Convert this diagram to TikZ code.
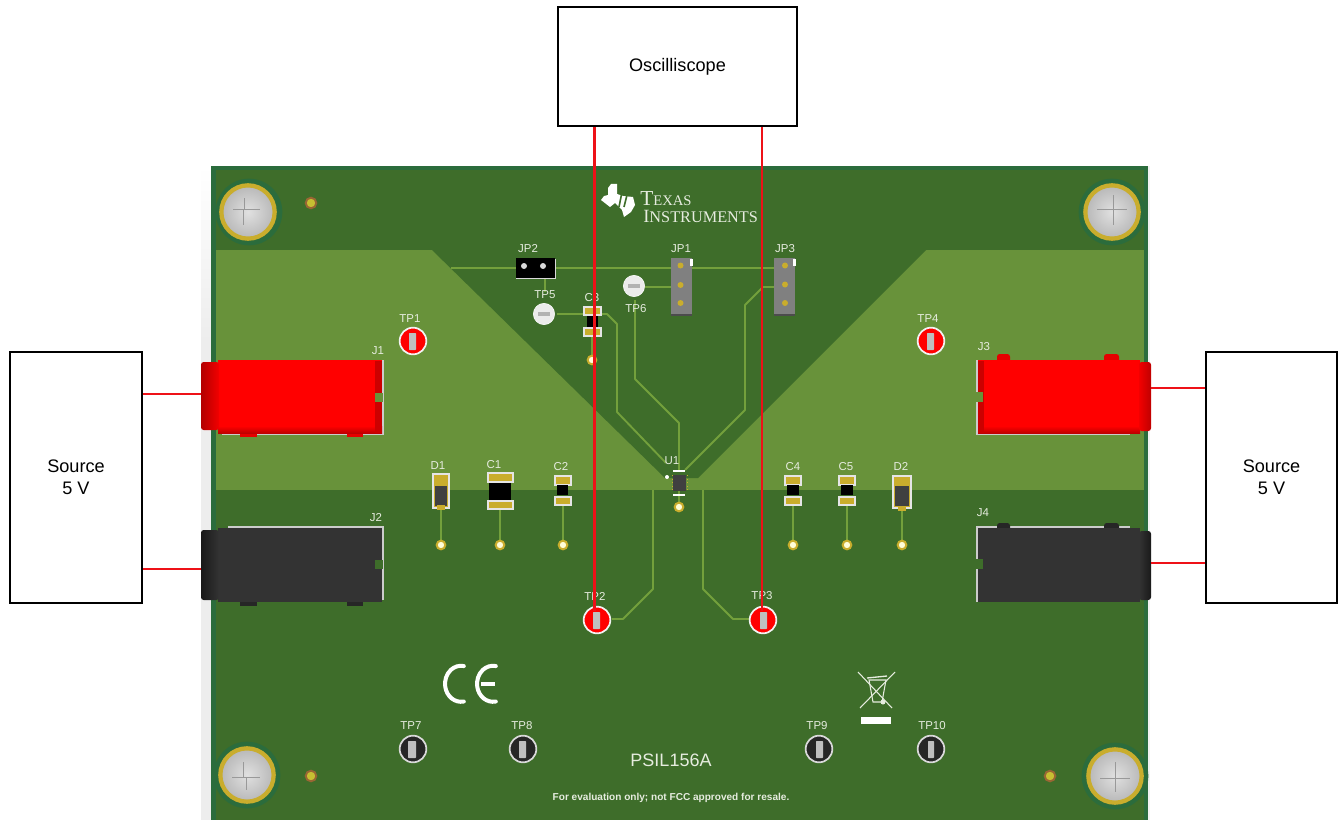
\documentclass[tikz,border=0pt]{standalone}
\usepackage{fontspec}
\setmainfont{Liberation Sans}
\newfontfamily\logofont{Liberation Serif}
\definecolor{boardgreen}{HTML}{3E6D2A}
\definecolor{edgeteal}{HTML}{2B6C3C}
\definecolor{pourgreen}{HTML}{68923A}
\definecolor{tracegreen}{HTML}{73A03C}
\definecolor{padgold}{HTML}{C9AD2D}
\definecolor{silk}{HTML}{E6ECDF}
\definecolor{probered}{HTML}{EE1118}
\tikzset{
  labelbox/.style={draw, line width=1.5pt, fill=white, inner sep=0pt, align=center, font=\fontsize{13.6}{16.5}\selectfont},
  wire/.style={draw=probered, line width=1.8pt},
  trace/.style={draw=tracegreen, line width=1.4pt, line join=round},
  silklabel/.style={text=silk, inner sep=0pt, font=\fontsize{8.6}{10}\selectfont},
  tpred/.style={draw=white!95!black, circle, line width=1.3pt, fill=red, minimum size=20pt, inner sep=0pt},
  tpblack/.style={draw=white!85!black, circle, line width=1.3pt, fill=black!85, minimum size=20pt, inner sep=0pt},
  tpwhite/.style={draw=white, circle, fill=white!92!black, minimum size=16pt, inner sep=0pt},
  pin/.style={fill=black!25, rounded corners=0.5pt},
  via/.style={circle, fill=white!85!yellow, draw=padgold, line width=1.5pt, minimum size=6.5pt, inner sep=0pt},
  hole/.style={circle, fill=yellow!75!black, draw=brown!80!black, line width=1.4pt, minimum size=8pt, inner sep=0pt},
  pad/.style={fill=padgold, draw=white!90!black, line width=0.8pt},
  screwring/.style={circle, draw=padgold, line width=3.2pt, inner color=black!12, outer color=black!28, minimum size=40pt, inner sep=0pt},
  screwhalo/.style={circle, fill=edgeteal, minimum size=50pt, inner sep=0pt},
  jackmark/.style={draw=white!80!black, line width=0.8pt},
  logomark/.style={draw=white, line width=3pt, line cap=round},
}
\begin{document}
\begin{tikzpicture}[x=0.75pt, y=-0.75pt]
\useasboundingbox (0,0) rectangle (1338,820);
\shade[top color=white, bottom color=black!7] (201,166) rectangle (211,340);
\fill[black!7] (201,340) rectangle (211,820);
\fill[black!5] (1148,166) rectangle (1150,820);
\fill[edgeteal] (211,166) rectangle (1148,820);
\fill[boardgreen] (216,170) rectangle (1144,820);
\fill[pourgreen] (216,250) rectangle (1144,490);
\fill[boardgreen] (432,250) -- (926,250) -- (698,478) -- (665,478) -- cycle;

\draw[trace] (451,268) -- (775,268);
\draw[trace] (775,268) -- (785,268);
\draw[trace] (545,278) -- (545,292);
\draw[trace] (557,314) -- (607,314) -- (617,324) -- (617,412) -- (666,463);
\draw[trace] (592,325) -- (592,360);
\draw[trace] (645,287) -- (672,287);
\draw[trace] (635,300) -- (635,379) -- (679,423) -- (679,470);
\draw[trace] (774,287) -- (763,287) -- (745,305) -- (745,410) -- (685,470);
\draw[trace] (653,490) -- (653,589) -- (623,619) -- (612,619);
\draw[trace] (703,490) -- (703,589) -- (733,619) -- (750,619);
\draw[trace] (441,505) -- (441,545);
\draw[trace] (500,505) -- (500,545);
\draw[trace] (563,505) -- (563,545);
\draw[trace] (793,505) -- (793,545);
\draw[trace] (847,505) -- (847,545);
\draw[trace] (902,505) -- (902,545);
\draw[trace] (679,490) -- (679,507);

\node[screwhalo] at (249,212) (screwa) {};
\node[screwhalo] at (1112,212) (screwb) {};
\node[screwhalo] at (247,775) (screwc) {};
\node[screwhalo] at (1115,776) (screwd) {};
\node[screwring] at (248,212) (screwe) {};
\node[screwring] at (1112,212) (screwf) {};
\node[screwring] at (247,775) (screwg) {};
\node[screwring] at (1115,776) (screwh) {};
\draw[black!40, line width=0.7pt] (233,209) -- (244,209) -- (244,198) (243,209) -- (260,209) (243,209) -- (243,225);
\draw[black!40, line width=0.7pt] (1097,209) -- (1127,209) (1113,195) -- (1113,225);
\draw[black!40, line width=0.7pt] (232,777) -- (260,777) (243,762) -- (243,777) (246,777) -- (246,790);
\draw[black!40, line width=0.7pt] (1100,778) -- (1130,778) (1115,762) -- (1115,792);
\node[hole] at (311,203) (holea) {};
\node[hole] at (311,776) (holeb) {};
\node[hole] at (1050,776) (holec) {};

\fill[white] (608,188) -- (611,184) -- (617,184) -- (617,194) -- (623,196) -- (633,197) -- (635,205) -- (631,212) -- (624,217) -- (622,210) -- (615,203) -- (610,207) -- (601,200) -- (604,196) -- (608,195) -- cycle;
\draw[boardgreen, line width=1.2pt] (622,192) -- (619,207) (627,195) -- (624,207);
\node[text=silk, inner sep=0pt, anchor=base west, font=\logofont] at (640,205) (texas) {{\fontsize{16}{17}\selectfont T}{\fontsize{11}{13}\selectfont EXAS}};
\node[text=silk, inner sep=0pt, anchor=base west, font=\logofont] at (643,222) (instr) {{\fontsize{14}{15}\selectfont I}{\fontsize{12.2}{13}\selectfont NSTRUMENTS}};

\fill[black] (516,258) rectangle (555,278);
\draw[white!85!black, line width=0.7pt] (555,259) -- (555,278) -- (516,278);
\fill[black!15] (524,266) circle[radius=3];
\fill[black!15] (543,266) circle[radius=3];
\fill[black!50] (671,258) rectangle (692,316);
\fill[black!70] (671,314) rectangle (692,316);
\fill[white] (690,259) rectangle (693,266);
\fill[padgold] (680.5,265.5) circle[radius=3];
\fill[padgold] (680.5,285) circle[radius=3];
\fill[padgold] (680.5,303) circle[radius=3];
\fill[black!50] (774,258) rectangle (795,316);
\fill[black!70] (774,314) rectangle (795,316);
\fill[white] (793,259) rectangle (796,266);
\fill[padgold] (785,265.5) circle[radius=3];
\fill[padgold] (785,284.5) circle[radius=3];
\fill[padgold] (785,303) circle[radius=3];

\node[tpwhite] at (544,314) (tp5) {};
\node[tpwhite] at (634,286) (tp6) {};
\fill[black!30] (538,312) rectangle (550,316);
\fill[black!30] (628,284) rectangle (640,288);

\fill[pad] (584,307) rectangle (601,315);
\fill[pad] (584,328) rectangle (601,336);
\fill[black] (587,316) rectangle (598,327);
\node[via] at (592,360) (viac3) {};

\fill[pad] (433,474) rectangle (449,508);
\fill[black!75] (435,486) rectangle (447,506);
\fill[padgold] (437,478) rectangle (445,484);
\fill[padgold] (437,505) rectangle (445,510);
\fill[pad] (488,473) rectangle (513,482);
\fill[pad] (488,501) rectangle (513,509);
\fill[black] (489,483) rectangle (511,500);
\fill[pad] (555,476) rectangle (571,485);
\fill[pad] (555,497) rectangle (571,505);
\fill[black] (557,485) rectangle (568,495);
\fill[pad] (785,476) rectangle (801,485);
\fill[pad] (785,497) rectangle (801,505);
\fill[black] (787,485) rectangle (799,495);
\fill[pad] (839,476) rectangle (855,485);
\fill[pad] (839,497) rectangle (855,505);
\fill[black] (841,485) rectangle (853,495);
\fill[pad] (893,476) rectangle (911,508);
\fill[black!75] (895,486) rectangle (909,506);
\fill[padgold] (898,480) rectangle (906,485);
\fill[padgold] (898,506) rectangle (906,511);

\fill[black!75] (673,475) rectangle (686,491);
\draw[padgold, line width=0.7pt, dotted] (672,475) -- (672,491) (687,475) -- (687,491);
\draw[white, line width=0.8pt] (673,471) -- (685,471) (673,495) -- (685,495);
\fill[white] (667,477) circle[radius=2];

\node[via] at (441,545) (viad1) {};
\node[via] at (500,545) (viac1) {};
\node[via] at (563,545) (viac2) {};
\node[via] at (793,545) (viac4) {};
\node[via] at (847,545) (viac5) {};
\node[via] at (902,545) (viad2) {};
\node[via] at (679,507) (viau1) {};

\draw[jackmark] (222,434) -- (383,434) -- (383,360);
\fill[red!90!black] (240,433) rectangle (257,437);
\fill[red!90!black] (347,433) rectangle (363,437);
\fill[red] (218,360) rectangle (382,433);
\shade[top color=red, bottom color=red!75!black] (218,426) rectangle (382,433);
\shade[left color=red!70!black, right color=red!95!black, rounded corners=2pt] (201,362) rectangle (219,430);
\fill[red!80!black] (375,361) rectangle (382,433);
\fill[pourgreen] (375,393) rectangle (383,402);

\draw[jackmark] (228,527) -- (383,527) -- (383,600);
\fill[black!85] (240,602) rectangle (257,606);
\fill[black!85] (347,602) rectangle (363,606);
\fill[black!80] (218,528) rectangle (382,602);
\shade[left color=black!90, right color=black!80, rounded corners=2pt] (201,530) rectangle (219,600);
\fill[boardgreen] (375,560) rectangle (383,569);

\draw[jackmark] (977,360) -- (977,434) -- (1130,434);
\fill[red!90!black, rounded corners=2pt] (997,354) rectangle (1010,364);
\fill[red!90!black, rounded corners=2pt] (1104,354) rectangle (1119,364);
\fill[red] (978,360) rectangle (1140,433);
\shade[top color=red, bottom color=red!75!black] (978,426) rectangle (1140,433);
\shade[left color=red!95!black, right color=red!75!black, rounded corners=2pt] (1139,362) rectangle (1151,431);
\fill[red!80!black] (978,361) rectangle (984,433);
\fill[pourgreen] (976,392) rectangle (983,402);

\draw[jackmark] (977,602) -- (977,527) -- (1130,527);
\fill[black!85, rounded corners=2pt] (997,523) rectangle (1010,532);
\fill[black!85, rounded corners=2pt] (1104,523) rectangle (1119,532);
\fill[black!80] (978,528) rectangle (1140,602);
\shade[left color=black!80, right color=black!90, rounded corners=2pt] (1139,531) rectangle (1151,600);
\fill[boardgreen] (976,559) rectangle (983,569);

\node[tpred] at (413,341) (tp1) {};
\node[tpred] at (597,620) (tp2) {};
\node[tpred] at (763,620) (tp3) {};
\node[tpred] at (931,341) (tp4) {};
\node[tpblack] at (413,749) (tp7) {};
\node[tpblack] at (523,749) (tp8) {};
\node[tpblack] at (819,749) (tp9) {};
\node[tpblack] at (931,749) (tp10) {};
\fill[pin] (409,333) rectangle (416,350);
\fill[pin] (593,612) rectangle (600,629);
\fill[pin] (760,612) rectangle (767,629);
\fill[pin] (927,333) rectangle (934,350);
\fill[pin] (408,741) rectangle (416,758);
\fill[pin] (519,741) rectangle (526,758);
\fill[pin] (816,741) rectangle (823,758);
\fill[pin] (928,741) rectangle (934,758);

\node[silklabel] at (410,319) (lbltpa) {TP1};
\node[silklabel] at (595,596) (lbltpb) {TP2};
\node[silklabel] at (762,596) (lbltpc) {TP3};
\node[silklabel] at (928,319) (lbltpd) {TP4};
\node[silklabel] at (545,295) (lbltpe) {TP5};
\node[silklabel] at (636,309) (lbltpf) {TP6};
\node[silklabel] at (411,726) (lbltpg) {TP7};
\node[silklabel] at (522,726) (lbltph) {TP8};
\node[silklabel] at (817,726) (lbltpi) {TP9};
\node[silklabel] at (932,726) (lbltpj) {TP10};
\node[silklabel] at (528,249) (lbljpa) {JP2};
\node[silklabel] at (681,249) (lbljpb) {JP1};
\node[silklabel] at (785,249) (lbljpc) {JP3};
\node[silklabel] at (592,298) (lblca) {C3};
\node[silklabel] at (438,466) (lbldb) {D1};
\node[silklabel] at (494,465) (lblcb) {C1};
\node[silklabel] at (561,467) (lblcc) {C2};
\node[silklabel] at (793,467) (lblcd) {C4};
\node[silklabel] at (846,467) (lblce) {C5};
\node[silklabel] at (901,466) (lbldc) {D2};
\node[silklabel] at (672,461) (lblu) {U1};
\node[silklabel] at (378,351) (lblja) {J1};
\node[silklabel] at (376,518) (lbljb) {J2};
\node[silklabel] at (984,347) (lbljc) {J3};
\node[silklabel] at (983,513) (lbljd) {J4};

\draw[logomark] (463.8,701.5) arc[start angle=80, end angle=280, x radius=16, y radius=18];
\draw[logomark] (495.8,701.5) arc[start angle=80, end angle=280, x radius=16, y radius=18];
\draw[white, line width=3pt] (481,684) -- (495,684);

\draw[silk, line width=0.8pt] (858,672) -- (892,708) (895,672) -- (860,708);
\draw[silk, line width=0.8pt] (869,680) -- (873,702) -- (882,702) -- (886,680) -- cycle;
\draw[silk, line width=1pt] (867,678) -- (887,676);
\fill[silk] (883,702) circle[radius=2.5];
\fill[white] (861,717) rectangle (891,724);

\node[text=silk, inner sep=0pt, font=\fontsize{13.5}{15}\selectfont] at (671,760) (boardid) {PSIL156A};
\node[text=silk, inner sep=0pt, font=\fontsize{7.55}{9}\selectfont\bfseries] at (671,798) (disclaimer) {For evaluation only; not FCC approved for resale.};

\node[labelbox, minimum width=179.5pt, minimum height=89.25pt] at (677.5,66.5) (scope) {Oscilliscope};
\node[labelbox, minimum width=99pt, minimum height=188.25pt] at (76,477.5) (srcl) {Source\\5 V};
\node[labelbox, minimum width=98.25pt, minimum height=188.25pt] at (1271.5,477.5) (srcr) {Source\\5 V};

\coordinate (prba) at (594.5,611);
\coordinate (prbb) at (762,611);
\coordinate (jcka) at (201,394);
\coordinate (jckb) at (201,569);
\coordinate (jckc) at (1151,388);
\coordinate (jckd) at (1151,563);
\draw[wire] (scope.south -| prba) -- (prba);
\draw[wire] (scope.south -| prbb) -- (prbb);
\draw[wire] (srcl.east |- jcka) -- (jcka);
\draw[wire] (srcl.east |- jckb) -- (jckb);
\draw[wire] (srcr.west |- jckc) -- (jckc);
\draw[wire] (srcr.west |- jckd) -- (jckd);
\end{tikzpicture}
\end{document}
